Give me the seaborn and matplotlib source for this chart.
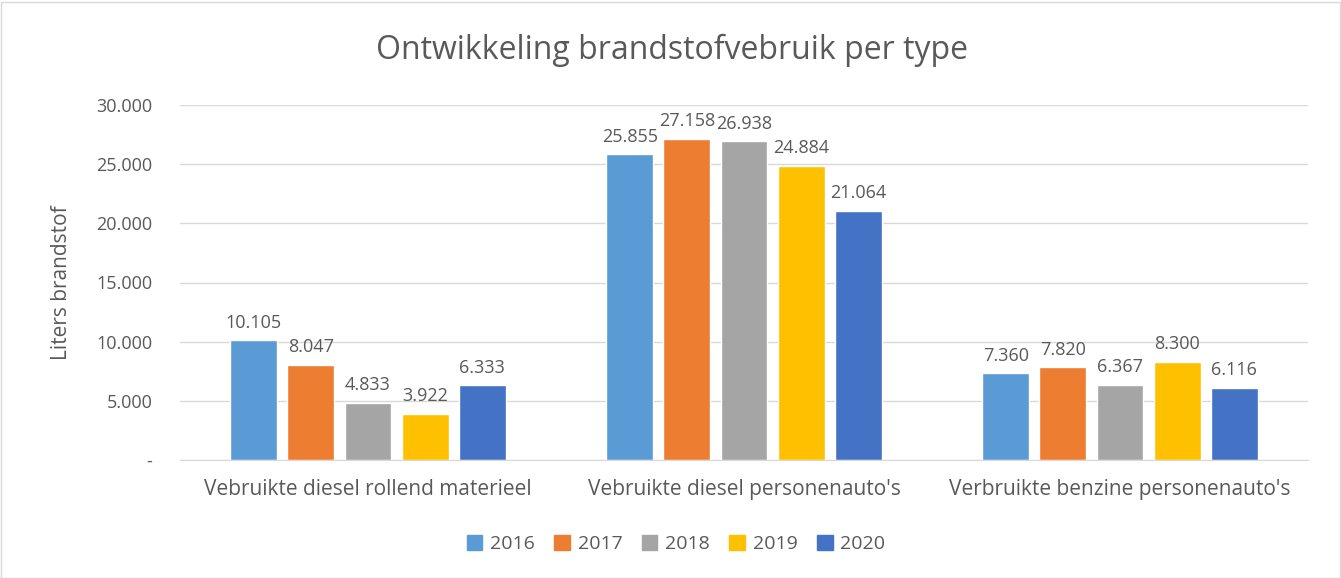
import matplotlib
matplotlib.use("Agg")
import matplotlib.pyplot as plt
import seaborn as sns
import pandas as pd
from matplotlib.ticker import FuncFormatter
from matplotlib.patches import Rectangle

categories = ["Vebruikte diesel rollend materieel", "Vebruikte diesel personenauto's", "Verbruikte benzine personenauto's"]
years = ["2016", "2017", "2018", "2019", "2020"]
v2016 = [10105, 25855, 7360]
v2017 = [8047, 27158, 7820]
v2018 = [4833, 26938, 6367]
v2019 = [3922, 24884, 8300]
v2020 = [6333, 21064, 6116]
yticks = [0, 5000, 10000, 15000, 20000, 25000, 30000]

colors = ["#5B9BD5", "#ED7D31", "#A5A5A5", "#FFC000", "#4472C4"]
txt = "#595959"

rows = []
for y, vals in zip(years, [v2016, v2017, v2018, v2019, v2020]):
    for c, v in zip(categories, vals):
        rows.append({"cat": c, "year": y, "val": v})
df = pd.DataFrame(rows)

sns.set_style("white")
plt.rcParams['font.family'] = ['Open Sans', 'DejaVu Sans']

fig = plt.figure(figsize=(13.41, 5.78), dpi=100)
ax = fig.add_axes([180/1341, 1-460/578, 1128/1341, 355/578])

sns.barplot(data=df, x="cat", y="val", hue="year", hue_order=years, order=categories,
            palette=colors, width=0.76, gap=0.18, ax=ax, saturation=1, legend=True)

def fmt(v, pos=None):
    if v == 0:
        return "-"
    return f"{int(round(v)):,}".replace(",", ".")

ax.set_ylim(0, 30000)
ax.set_yticks(yticks)
ax.yaxis.set_major_formatter(FuncFormatter(fmt))
ax.grid(axis="y", color="#D9D9D9", linewidth=1)
ax.set_axisbelow(True)
for s in ["top", "right", "left"]:
    ax.spines[s].set_visible(False)
ax.spines["bottom"].set_color("#D9D9D9")
ax.tick_params(axis="y", length=0, labelsize=13, colors=txt, pad=20)
ax.tick_params(axis="x", length=0, labelsize=15, colors=txt, pad=14)
ax.set_xlabel("")
ax.set_ylabel("Liters brandstof", fontsize=15, color=txt, labelpad=17)

for cont in ax.containers:
    ax.bar_label(cont, labels=[fmt(b.get_height()) for b in cont], padding=6, fontsize=13, color=txt)

ax.legend_.remove()
handles = [Rectangle((0, 0), 1, 1, color=c) for c in colors]
fig.legend(handles, years, loc="center", bbox_to_anchor=(676/1341, 1-544/578), ncol=5, frameon=False,
           fontsize=14, labelcolor=txt, handlelength=0.8, handleheight=0.8, handletextpad=0.4, columnspacing=1.0)

fig.text(672/1341, 1-50/578, "Ontwikkeling brandstofvebruik per type", ha="center", va="center",
         fontsize=23, color=txt)

fig.patches.append(Rectangle((0.5/1341, 0.5/578), 1339/1341, 576/578, transform=fig.transFigure,
                             fill=False, edgecolor="#D9D9D9", linewidth=1))

fig.savefig("out.png", dpi=100)
